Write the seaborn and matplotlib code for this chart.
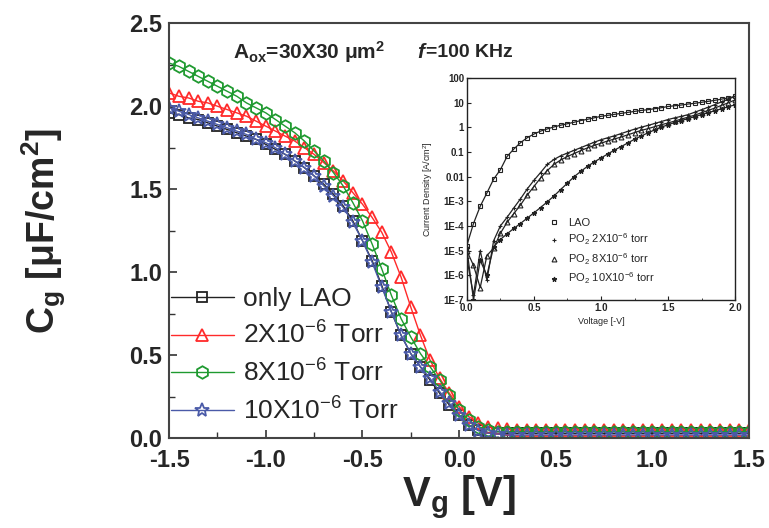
import numpy as np
import matplotlib
matplotlib.use('Agg')
import matplotlib.pyplot as plt
import seaborn as sns
from matplotlib.ticker import MultipleLocator, LogLocator, FixedLocator

# C-V data (gate voltage sweep, capacitance in uF/cm2)
vg = [-1.50, -1.45, -1.40, -1.35, -1.30, -1.25, -1.20, -1.15, -1.10, -1.05,
      -1.00, -0.95, -0.90, -0.85, -0.80, -0.75, -0.70, -0.65, -0.60, -0.55,
      -0.50, -0.45, -0.40, -0.35, -0.30, -0.25, -0.20, -0.15, -0.10, -0.05,
      0.00, 0.05, 0.10, 0.15, 0.20, 0.25, 0.30, 0.35, 0.40, 0.45,
      0.50, 0.55, 0.60, 0.65, 0.70, 0.75, 0.80, 0.85, 0.90, 0.95,
      1.00, 1.05, 1.10, 1.15, 1.20, 1.25, 1.30, 1.35, 1.40, 1.45, 1.50]

c_lao = [1.96, 1.95, 1.93, 1.92, 1.90, 1.88, 1.86, 1.84, 1.82, 1.80,
         1.77, 1.74, 1.71, 1.67, 1.63, 1.58, 1.53, 1.47, 1.40, 1.31,
         1.19, 1.07, 0.92, 0.76, 0.62, 0.51, 0.43, 0.35, 0.27, 0.20,
         0.14, 0.08, 0.05, 0.035, 0.03, 0.03, 0.03, 0.03, 0.03, 0.03,
         0.03, 0.03, 0.03, 0.03, 0.03, 0.03, 0.03, 0.03, 0.03, 0.03,
         0.03, 0.03, 0.03, 0.03, 0.03, 0.03, 0.03, 0.03, 0.03, 0.03, 0.03]

c_2e6 = [2.08, 2.06, 2.05, 2.03, 2.02, 2.00, 1.98, 1.96, 1.94, 1.91,
         1.88, 1.85, 1.82, 1.79, 1.75, 1.71, 1.66, 1.61, 1.55, 1.48,
         1.41, 1.33, 1.24, 1.12, 0.97, 0.79, 0.62, 0.47, 0.36, 0.27,
         0.19, 0.13, 0.09, 0.07, 0.06, 0.055, 0.05, 0.05, 0.05, 0.05,
         0.05, 0.05, 0.05, 0.05, 0.05, 0.05, 0.05, 0.05, 0.05, 0.05,
         0.05, 0.05, 0.05, 0.05, 0.05, 0.05, 0.05, 0.05, 0.05, 0.05, 0.05]

c_8e6 = [2.26, 2.24, 2.21, 2.18, 2.15, 2.12, 2.09, 2.06, 2.02, 1.99,
         1.96, 1.92, 1.88, 1.84, 1.79, 1.73, 1.67, 1.60, 1.52, 1.42,
         1.31, 1.17, 1.02, 0.86, 0.72, 0.61, 0.51, 0.43, 0.35, 0.26,
         0.17, 0.11, 0.07, 0.05, 0.04, 0.04, 0.04, 0.04, 0.04, 0.04,
         0.04, 0.04, 0.04, 0.04, 0.04, 0.04, 0.04, 0.04, 0.04, 0.04,
         0.04, 0.04, 0.04, 0.04, 0.04, 0.04, 0.04, 0.04, 0.04, 0.04, 0.04]

c_10e6 = [1.99, 1.97, 1.95, 1.93, 1.91, 1.89, 1.87, 1.85, 1.83, 1.80,
          1.78, 1.75, 1.71, 1.67, 1.63, 1.58, 1.52, 1.46, 1.39, 1.30,
          1.19, 1.06, 0.91, 0.76, 0.62, 0.51, 0.43, 0.36, 0.28, 0.21,
          0.14, 0.08, 0.045, 0.03, 0.025, 0.02, 0.02, 0.02, 0.02, 0.02,
          0.02, 0.02, 0.02, 0.02, 0.02, 0.02, 0.02, 0.02, 0.02, 0.02,
          0.02, 0.02, 0.02, 0.02, 0.02, 0.02, 0.02, 0.02, 0.02, 0.02, 0.02]

cv_labels = ['only LAO', '2X10$^{-6}$ Torr', '8X10$^{-6}$ Torr', '10X10$^{-6}$ Torr']

# I-V data for inset (log10 of current density, A/cm2)
v_iv = [0.00, 0.05, 0.10, 0.15, 0.20, 0.25, 0.30, 0.35, 0.40, 0.45,
        0.50, 0.55, 0.60, 0.65, 0.70, 0.75, 0.80, 0.85, 0.90, 0.95,
        1.00, 1.05, 1.10, 1.15, 1.20, 1.25, 1.30, 1.35, 1.40, 1.45,
        1.50, 1.55, 1.60, 1.65, 1.70, 1.75, 1.80, 1.85, 1.90, 1.95, 2.00]

log_lao = [-4.8, -3.9, -3.2, -2.66, -2.1, -1.72, -1.18, -0.88, -0.62, -0.42,
           -0.27, -0.15, -0.06, 0.02, 0.09, 0.15, 0.21, 0.28, 0.33, 0.39,
           0.45, 0.49, 0.53, 0.57, 0.61, 0.65, 0.69, 0.72, 0.76, 0.80,
           0.85, 0.88, 0.91, 0.95, 0.98, 1.02, 1.06, 1.10, 1.15, 1.20, 1.26]

log_2e6 = [-5.3, -6.8, -5.0, -6.2, -4.6, -4.0, -3.65, -3.27, -2.9, -2.5,
           -2.15, -1.83, -1.5, -1.3, -1.15, -1.04, -0.93, -0.82, -0.71, -0.6,
           -0.5, -0.42, -0.34, -0.25, -0.16, -0.07, 0.01, 0.08, 0.16, 0.24,
           0.32, 0.39, 0.45, 0.52, 0.62, 0.72, 0.82, 0.93, 1.04, 1.15, 1.26]

log_8e6 = [-5.0, -5.6, -6.5, -5.2, -4.9, -4.3, -3.85, -3.5, -3.15, -2.75,
           -2.4, -2.05, -1.75, -1.5, -1.32, -1.18, -1.06, -0.94, -0.83, -0.73,
           -0.64, -0.55, -0.47, -0.39, -0.3, -0.21, -0.12, -0.05, 0.03, 0.11,
           0.18, 0.26, 0.34, 0.42, 0.5, 0.6, 0.69, 0.79, 0.9, 1.0, 1.12]

log_10e6 = [-4.9, -7.0, -5.4, -6.0, -4.85, -4.55, -4.32, -4.1, -3.9, -3.68,
            -3.47, -3.25, -3.02, -2.78, -2.52, -2.26, -2.0, -1.78, -1.58, -1.4,
            -1.24, -1.08, -0.92, -0.78, -0.63, -0.48, -0.35, -0.22, -0.1, 0.01,
            0.11, 0.2, 0.28, 0.36, 0.44, 0.52, 0.6, 0.68, 0.76, 0.84, 0.92]

iv_labels = ['LAO', 'PO$_2$ 2X10$^{-6}$ torr', 'PO$_2$ 8X10$^{-6}$ torr', 'PO$_2$ 10X10$^{-6}$ torr']

sns.set_style('ticks')
plt.rcParams['font.family'] = ['Liberation Sans', 'DejaVu Sans']
plt.rcParams['mathtext.default'] = 'regular'

fig = plt.figure(figsize=(7.69, 5.28), dpi=100)
ax = fig.add_axes([0.220, 0.170, 0.754, 0.786])

colors = ['#222222', '#ff2a2a', '#1f9a30', '#4a5aa8']
markers = ['s', '^', 'h', '*']
msizes = [7, 9, 9, 10]
for c, lab, col, mk, ms in zip([c_lao, c_2e6, c_8e6, c_10e6], cv_labels, colors, markers, msizes):
    sns.lineplot(x=vg, y=c, ax=ax, color=col, marker=mk, markersize=ms,
                 markerfacecolor='none', markeredgecolor=col, markeredgewidth=1.3,
                 linewidth=1.0, label=lab, sort=False)

ax.set_xlim(-1.5, 1.5)
ax.set_ylim(0, 2.5)
ax.xaxis.set_major_locator(MultipleLocator(0.5))
ax.xaxis.set_minor_locator(MultipleLocator(0.25))
ax.yaxis.set_major_locator(MultipleLocator(0.5))
ax.yaxis.set_minor_locator(MultipleLocator(0.25))
ax.tick_params(which='both', direction='in', top=False, right=False, color='#333333')
ax.tick_params(which='major', length=6, width=1.2, labelsize=17)
ax.tick_params(axis='x', which='major', pad=8)
ax.tick_params(axis='y', which='major', pad=5)
ax.tick_params(which='minor', length=4, width=1.0)
for t in ax.get_xticklabels() + ax.get_yticklabels():
    t.set_fontweight('bold')
ax.xaxis.set_major_formatter(matplotlib.ticker.FormatStrFormatter('%.1f'))
ax.yaxis.set_major_formatter(matplotlib.ticker.FormatStrFormatter('%.1f'))
for s in ax.spines.values():
    s.set_linewidth(1.5)
    s.set_color('#444444')

ax.set_xlabel('V$_g$ [V]', fontsize=30, fontweight='bold', labelpad=1)
ax.set_ylabel('C$_g$ [μF/cm$^2$]', fontsize=27, fontweight='bold', labelpad=44)

leg = ax.legend(loc='lower left', bbox_to_anchor=(-0.025, -0.005), frameon=False,
                fontsize=19, handlelength=2.4, handletextpad=0.35, labelspacing=0.4,
                borderaxespad=0.2)

ax.text(0.11, 0.93, 'A$_{ox}$=30X30 μm$^2$', transform=ax.transAxes, fontsize=15,
        fontweight='bold', va='center', ha='left')
ax.text(0.428, 0.93, 'f', transform=ax.transAxes, fontsize=15, fontweight='bold',
        style='italic', va='center', ha='left')
ax.text(0.443, 0.93, '=100 KHz', transform=ax.transAxes, fontsize=14,
        fontweight='bold', va='center', ha='left')

# inset: I-V curves
ins = fig.add_axes([0.607, 0.432, 0.349, 0.420])
ins.set_facecolor('white')
iv_markers = ['s', '+', '^', '*']
for lg, lab, mk in zip([log_lao, log_2e6, log_8e6, log_10e6], iv_labels, iv_markers):
    j = [10.0 ** v for v in lg]
    sns.lineplot(x=v_iv, y=j, ax=ins, color='#222222', marker=mk, markersize=3.5,
                 markerfacecolor='none' if mk in ('s', '^') else '#222222',
                 markeredgecolor='#222222', markeredgewidth=0.8, linewidth=0.9,
                 label=lab, sort=False)
ins.set_yscale('log')
ins.set_xlim(0, 2.0)
ins.set_ylim(1e-7, 100)
ins.xaxis.set_major_locator(MultipleLocator(0.5))
ins.xaxis.set_minor_locator(MultipleLocator(0.25))
ins.yaxis.set_major_locator(FixedLocator([1e-7, 1e-6, 1e-5, 1e-4, 1e-3, 1e-2, 1e-1, 1, 10, 100]))
ins.yaxis.set_minor_locator(LogLocator(base=10, subs=np.arange(2, 10)))
ins.yaxis.set_minor_formatter(matplotlib.ticker.NullFormatter())
ins.set_yticklabels(['1E-7', '1E-6', '1E-5', '1E-4', '1E-3', '0.01', '0.1', '1', '10', '100'])
ins.xaxis.set_major_formatter(matplotlib.ticker.FormatStrFormatter('%.1f'))
ins.tick_params(which='both', direction='in', labelsize=7, pad=2, color='#222222')
ins.tick_params(which='major', length=3, width=0.8)
ins.tick_params(which='minor', length=1.5, width=0.6)
for t in ins.get_xticklabels() + ins.get_yticklabels():
    t.set_fontweight('bold')
for s in ins.spines.values():
    s.set_linewidth(1.0)
    s.set_color('#222222')
ins.set_xlabel('Voltage [-V]', fontsize=6.5, labelpad=3)
ins.set_ylabel('Current Density [A/cm$^2$]', fontsize=6.5, labelpad=6)
ins.legend(loc='upper left', bbox_to_anchor=(0.31, 0.37), frameon=False, fontsize=8,
           handlelength=0.8, handletextpad=0.8, labelspacing=0.35, borderaxespad=0,
           borderpad=0)
for h in ins.get_legend().get_lines():
    h.set_linestyle('none')

fig.savefig('out.png', dpi=100)
